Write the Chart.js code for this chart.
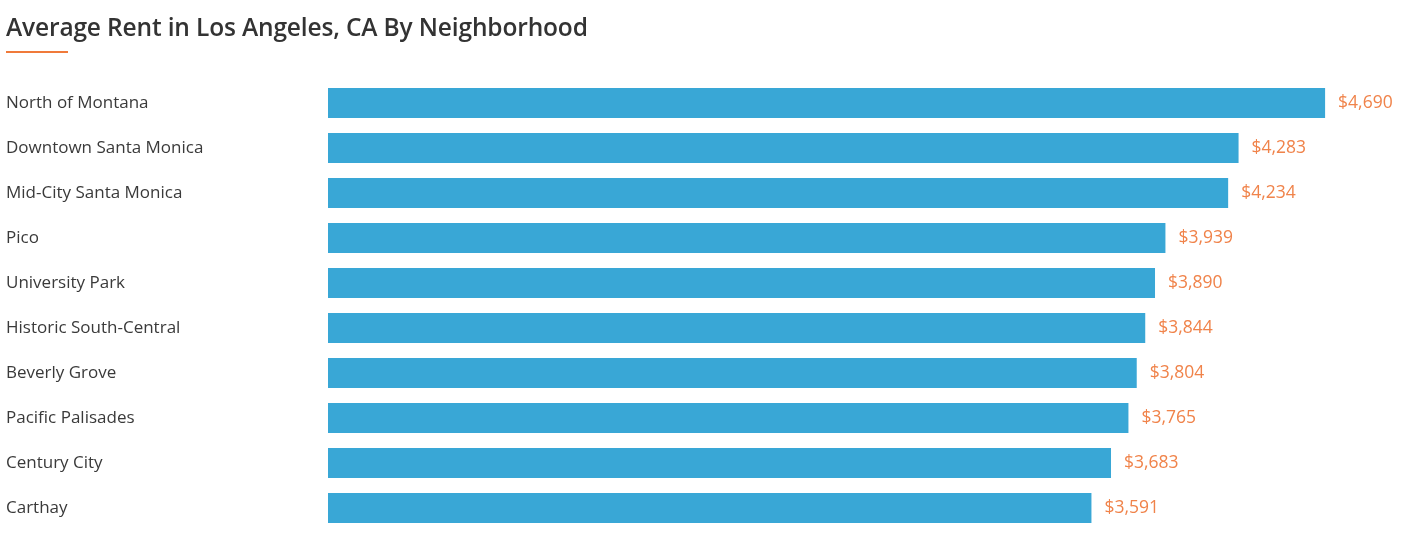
<!DOCTYPE html>
<html>
<head>
<meta charset="utf-8">
<script src="https://cdn.jsdelivr.net/npm/chart.js@4/dist/chart.umd.min.js"></script>
<style>
  body { margin: 0; background: #fff; }
  #wrap { position: relative; width: 1401px; height: 540px; }
  canvas { position: absolute; left: 0; top: 0; }
  #title {
    position: absolute; left: 6px; top: 10px; margin: 0; z-index: 2;
    font: 600 24.5px "Open Sans", sans-serif; color: #333;
    letter-spacing: -0.15px;
  }
  #rule { position: absolute; left: 6px; top: 51px; width: 62px; height: 1.5px; background: #f07a3a; z-index: 2; }
</style>
</head>
<body>
<div id="wrap">
  <canvas id="rent" width="1401" height="540"></canvas>
  <h2 id="title">Average Rent in Los Angeles, CA By Neighborhood</h2>
  <div id="rule"></div>
</div>
<script>
const neighborhoods = ["North of Montana", "Downtown Santa Monica", "Mid-City Santa Monica", "Pico",
  "University Park", "Historic South-Central", "Beverly Grove", "Pacific Palisades", "Century City", "Carthay"];
const rents = [4690, 4283, 4234, 3939, 3890, 3844, 3804, 3765, 3683, 3591];

const barColor = "#39a7d6";
const valueColor = "#f0834a";
const labelFont = "Open Sans";

const fmt = (v) => "$" + v.toLocaleString("en-US");

const valueLabels = {
  id: "valueLabels",
  afterDatasetsDraw(chart) {
    const c = chart.ctx;
    const meta = chart.getDatasetMeta(0);
    c.save();
    c.font = "17.5px " + labelFont;
    c.fillStyle = valueColor;
    c.textAlign = "left";
    c.textBaseline = "middle";
    meta.data.forEach((bar, i) => {
      c.fillText(fmt(rents[i]), bar.x + 13, bar.y);
    });
    c.restore();
  }
};

var ctx = document.getElementById("rent").getContext("2d");
var chart = new Chart(ctx, {
  type: "bar",
  data: {
    labels: neighborhoods,
    datasets: [{
      data: rents,
      backgroundColor: barColor,
      borderWidth: 0,
      categoryPercentage: 1,
      barPercentage: 0.667,
    }],
  },
  options: {
    indexAxis: "y",
    responsive: false,
    animation: false,
    layout: { padding: { left: 6, right: 10, top: 80.5, bottom: 9.5 } },
    plugins: { legend: { display: false }, tooltip: { enabled: false } },
    scales: {
      x: { display: false, min: 0, max: 5000 },
      y: {
        grid: { display: false },
        border: { display: false },
        afterFit: (scale) => {
          scale.width = 322;
          scale.paddingTop = 0;
          scale.paddingBottom = 0;
        },
        ticks: {
          crossAlign: "far",
          color: "#3a3a3a",
          font: { family: labelFont, size: 17 },
        },
      },
    },
  },
  plugins: [valueLabels],
});
</script>
</body>
</html>
